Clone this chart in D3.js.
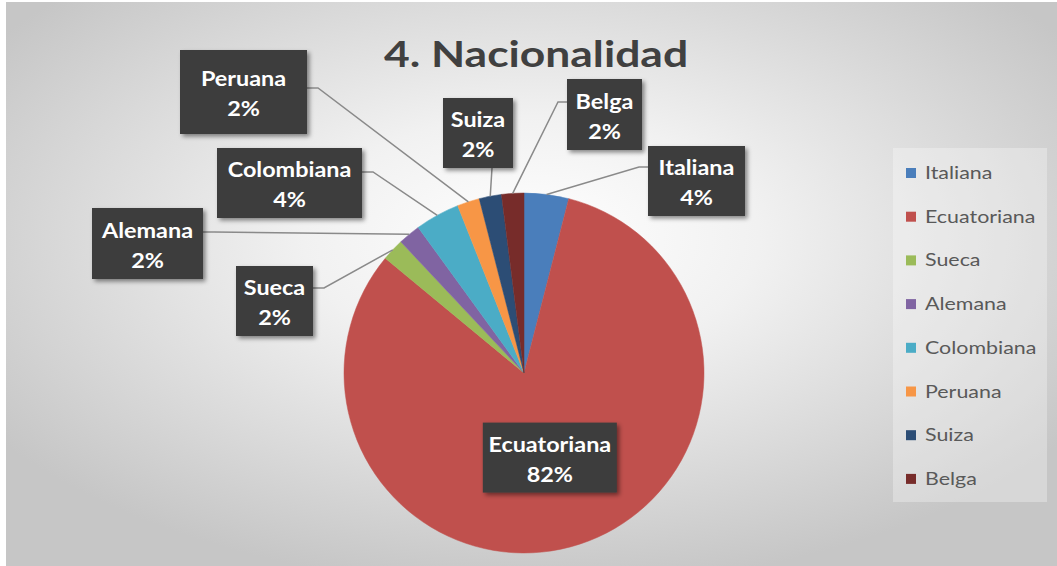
<!DOCTYPE html>
<html>
<head>
<meta charset="utf-8">
<script src="https://cdn.jsdelivr.net/npm/d3@7"></script>
<style>
  body { margin: 0; background: #fff; }
  svg { display: block; font-family: Lato, "Open Sans", sans-serif; }
</style>
</head>
<body>
<svg id="chart" width="1057" height="566"></svg>
<script>
// data (counts out of 50 give the shown percentages)
var categories = ["Italiana", "Ecuatoriana", "Sueca", "Alemana", "Colombiana", "Peruana", "Suiza", "Belga"];
var counts     = [2, 41, 1, 1, 2, 1, 1, 1];
var colors     = ["#4a7ebb", "#c0504d", "#9bbb59", "#8064a2", "#4bacc6", "#f79646", "#2c4d75", "#772c2a"];
var title      = "4. Nacionalidad";

// where excel had put the data label boxes
var labelBoxes = {
  "Peruana":    {x: 180, y: 50,  w: 127, h: 84, side: "right",  ay: 38},
  "Colombiana": {x: 217, y: 148, w: 145, h: 70, side: "right",  ay: 24},
  "Alemana":    {x: 92,  y: 208, w: 111, h: 71, side: "right",  ay: 24},
  "Sueca":      {x: 236, y: 266, w: 77,  h: 70, side: "right",  ay: 22},
  "Suiza":      {x: 443, y: 98,  w: 70,  h: 70, side: "bottom", ax: 49},
  "Belga":      {x: 567, y: 79,  w: 75,  h: 71, side: "left",   ay: 23},
  "Italiana":   {x: 648, y: 146, w: 97,  h: 70, side: "left",   ay: 21}
};

var W = 1057, H = 566;
var cx = 524, cy = 373, r = 180;
var SX = 1.17; // the source picture was stretched sideways, text looks wide

var svg = d3.select("#chart");
var defs = svg.append("defs");

var grad = defs.append("radialGradient")
    .attr("id", "bg")
    .attr("cx", "50%").attr("cy", "42%").attr("r", "62%");
grad.append("stop").attr("offset", "0%").attr("stop-color", "#ffffff");
grad.append("stop").attr("offset", "35%").attr("stop-color", "#f1f1f1");
grad.append("stop").attr("offset", "100%").attr("stop-color", "#c6c6c6");

var shadow = defs.append("filter").attr("id", "shadow")
    .attr("x", "-20%").attr("y", "-20%").attr("width", "150%").attr("height", "150%");
shadow.append("feDropShadow")
    .attr("dx", 2.5).attr("dy", 2.5).attr("stdDeviation", 2)
    .attr("flood-color", "#000").attr("flood-opacity", 0.45);

svg.append("rect")
    .attr("x", 6).attr("y", 2)
    .attr("width", W - 6).attr("height", H - 2)
    .attr("fill", "url(#bg)");

// title
svg.append("text")
    .attr("transform", "translate(536,67) scale(" + 1.2 + ",1)")
    .attr("text-anchor", "middle")
    .attr("font-size", 37)
    .attr("font-weight", 700)
    .attr("fill", "#404040")
    .text(title);

// pie
var data = categories.map(function(c, i) { return {name: c, value: counts[i], color: colors[i]}; });
var total = d3.sum(counts);
var pct = d3.format(".0%");

var pie = d3.pie().value(function(d) { return d.value; }).sort(null);
var arcs = pie(data);
var arc = d3.arc().innerRadius(0).outerRadius(r);

var g = svg.append("g").attr("transform", "translate(" + cx + "," + cy + ")");
g.selectAll("path.slice")
  .data(arcs)
  .enter().append("path")
    .attr("class", "slice")
    .attr("d", arc)
    .attr("fill", function(d) { return d.data.color; })
    .attr("stroke", function(d) { return d.data.color; })
    .attr("stroke-width", 0.5);

function edgePoint(d, rr) {
  var a = (d.startAngle + d.endAngle) / 2;
  return [cx + rr * Math.sin(a), cy - rr * Math.cos(a)];
}

// leader lines
var leaders = svg.append("g");
arcs.forEach(function(d) {
  var b = labelBoxes[d.data.name];
  if (!b) return;
  var end = edgePoint(d, r);
  var pts;
  if (b.side == "right") {
    var sy = b.y + b.ay;
    pts = [[b.x + b.w, sy], [b.x + b.w + 11, sy], end];
  } else if (b.side == "left") {
    var sy2 = b.y + b.ay;
    pts = [[b.x, sy2], [b.x - 9, sy2], end];
  } else {
    pts = [[b.x + b.ax, b.y + b.h], end];
  }
  leaders.append("path")
    .attr("d", d3.line()(pts))
    .attr("fill", "none")
    .attr("stroke", "#8a8a8a")
    .attr("stroke-width", 1.5);
});

// label boxes
function drawLabel(d, b) {
  var lg = svg.append("g");
  lg.append("rect")
    .attr("x", b.x).attr("y", b.y)
    .attr("width", b.w).attr("height", b.h)
    .attr("fill", "#3d3d3d")
    .attr("filter", "url(#shadow)");
  var mx = b.x + b.w / 2, my = b.y + b.h / 2;
  [d.data.name, pct(d.data.value / total)].forEach(function(t, i) {
    lg.append("text")
      .attr("transform", "translate(" + mx + "," + (my - 6 + i * 30) + ") scale(" + SX + ",1)")
      .attr("text-anchor", "middle")
      .attr("font-size", 20)
      .attr("font-weight", 700)
      .attr("fill", "#ffffff")
      .text(t);
  });
}

arcs.forEach(function(d) {
  var b = labelBoxes[d.data.name];
  if (b) {
    drawLabel(d, b);
  } else {
    // the big slice keeps its label inside
    var c = edgePoint(d, r * 0.5);
    drawLabel(d, {x: c[0] - 69, y: c[1] - 36, w: 134, h: 70});
  }
});

// legend
var lx = 893, ly = 148, lw = 154, lh = 354, step = 43.7;
svg.append("rect")
  .attr("x", lx).attr("y", ly)
  .attr("width", lw).attr("height", lh)
  .attr("fill", "#ffffff").attr("fill-opacity", 0.3);

var items = svg.selectAll("g.leg")
  .data(data)
  .enter().append("g")
    .attr("class", "leg")
    .attr("transform", function(d, i) { return "translate(" + (lx + 13) + "," + (ly + 25 + i * step) + ")"; });
items.append("rect")
  .attr("x", 0).attr("y", -5)
  .attr("width", 10).attr("height", 10)
  .attr("fill", function(d) { return d.color; });
items.append("text")
  .attr("transform", "translate(19,6) scale(1.26,1)")
  .attr("font-size", 17)
  .attr("fill", "#595959")
  .text(function(d) { return d.name; });
</script>
</body>
</html>
